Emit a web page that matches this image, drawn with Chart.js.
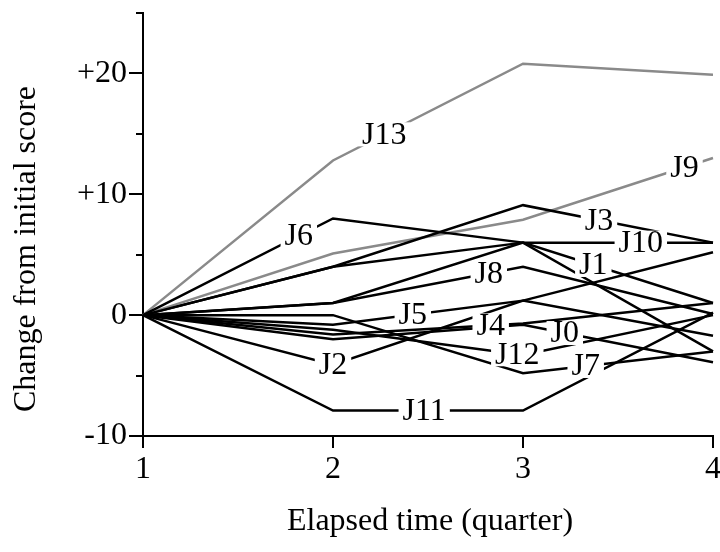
<!DOCTYPE html>
<html>
<head>
<meta charset="utf-8">
<script src="https://cdn.jsdelivr.net/npm/chart.js@4.4.1/dist/chart.umd.min.js"></script>
<style>
  html, body { margin: 0; padding: 0; background: #fff; }
</style>
</head>
<body>
<canvas id="chart" width="720" height="552"></canvas>
<script>
// x categories (elapsed quarter)
const quarters = ['1', '2', '3', '4'];

// change from initial score, one array per judge
const j0  = [0, -2.0, -0.8, -3.9];
const j1  = [0, 1.0, 6.0, 1.0];
const j2  = [0, -4.1, 1.2, -1.7];
const j3  = [0, 4.0, 9.1, 6.0];
const j4  = [0, -1.6, -0.7, 1.0];
const j5  = [0, -0.8, 1.2, 5.2];
const j6  = [0, 8.0, 6.0, -3.0];
const j7  = [0, 0.0, -4.8, -3.0];
const j8  = [0, 1.0, 4.0, 0.1];
const j9  = [0, 5.1, 7.9, 13.0];
const j10 = [0, 4.0, 6.0, 6.0];
const j11 = [0, -7.9, -7.9, 0.2];
const j12 = [0, -1.2, -3.3, 0.0];
const j13 = [0, 12.8, 20.8, 19.9];

const names = ['J0', 'J1', 'J2', 'J3', 'J4', 'J5', 'J6', 'J7', 'J8', 'J9', 'J10', 'J11', 'J12', 'J13'];
const values = [j0, j1, j2, j3, j4, j5, j6, j7, j8, j9, j10, j11, j12, j13];
const grayNames = ['J9', 'J13'];

// where along x each name sits on its own line
const labelAt = [3.22, 3.37, 2.0, 3.40, 2.83, 2.42, 1.82, 3.33, 2.82, 3.85, 3.62, 2.48, 2.97, 2.27];

const yTicks = [-10, 0, 10, 20];
const yMinor = [-5, 5, 15, 25];

const FONT = '32px "Liberation Serif", "Times New Roman", serif';

const lineLabels = {
  id: 'lineLabels',
  afterDatasetsDraw(chart) {
    const ctx = chart.ctx;
    const xs = chart.scales.x, ys = chart.scales.y;
    ctx.save();
    ctx.font = FONT;
    ctx.textAlign = 'center';
    ctx.textBaseline = 'middle';
    chart.data.datasets.forEach((ds, i) => {
      const t = labelAt[i] - 1;
      const k = Math.min(Math.floor(t), 2);
      const f = t - k;
      const v = ds.data[k] + (ds.data[k + 1] - ds.data[k]) * f;
      const x0 = xs.getPixelForValue(k), x1 = xs.getPixelForValue(k + 1);
      const px = x0 + (x1 - x0) * f;
      const py = ys.getPixelForValue(v);
      const w = ctx.measureText(ds.label).width;
      ctx.fillStyle = '#fff';
      ctx.fillRect(px - w / 2 - 4, py - 12, w + 8, 24);
      ctx.fillStyle = '#000';
      ctx.fillText(ds.label, px, py + 1);
    });
    ctx.restore();
  }
};

const extras = {
  id: 'extras',
  afterDraw(chart) {
    const ctx = chart.ctx;
    const ys = chart.scales.y;
    const left = chart.chartArea.left;
    ctx.save();
    // minor ticks on the y axis
    ctx.strokeStyle = '#000';
    ctx.lineWidth = 2;
    yMinor.forEach(v => {
      const y = Math.round(ys.getPixelForValue(v));
      ctx.beginPath();
      ctx.moveTo(left - 7, y);
      ctx.lineTo(left, y);
      ctx.stroke();
    });
    // axis titles
    ctx.fillStyle = '#000';
    ctx.font = FONT;
    ctx.textAlign = 'center';
    ctx.textBaseline = 'middle';
    ctx.fillText('Elapsed time (quarter)', 430, 522);
    ctx.translate(27, 249);
    ctx.rotate(-Math.PI / 2);
    ctx.fillText('Change from initial score', 0, 0);
    ctx.restore();
  }
};

new Chart(document.getElementById('chart'), {
  type: 'line',
  data: {
    labels: quarters,
    datasets: names.map((n, i) => ({
      label: n,
      data: values[i],
      borderColor: grayNames.includes(n) ? '#8a8a8a' : '#000',
      borderWidth: 2.5,
      borderJoinStyle: 'miter',
      pointRadius: 0,
      tension: 0,
      fill: false
    }))
  },
  options: {
    responsive: false,
    animation: false,
    devicePixelRatio: 1,
    layout: { padding: { top: 13, right: 7, left: 0, bottom: 0 } },
    plugins: { legend: { display: false }, tooltip: { enabled: false } },
    scales: {
      x: {
        type: 'category',
        offset: false,
        border: { display: true, color: '#000', width: 2 },
        grid: { display: true, drawOnChartArea: false, drawTicks: true, tickLength: 12, color: '#000', lineWidth: 2 },
        ticks: { color: '#000', font: { family: '"Liberation Serif", serif', size: 32 }, padding: 2, maxRotation: 0 },
        afterFit(s) { s.height = 552 - 436; s.paddingLeft = 0; s.paddingRight = 0; }
      },
      y: {
        min: -10,
        max: 25,
        border: { display: true, color: '#000', width: 2 },
        grid: { display: true, drawOnChartArea: false, drawTicks: true, tickLength: 14, color: '#000', lineWidth: 2 },
        afterBuildTicks(s) { s.ticks = yTicks.map(v => ({ value: v })); },
        ticks: {
          color: '#000',
          font: { family: '"Liberation Serif", serif', size: 32 },
          padding: 2,
          callback: v => (v > 0 ? '+' + v : String(v))
        },
        afterFit(s) { s.width = 143; s.paddingTop = 0; s.paddingBottom = 0; }
      }
    }
  },
  plugins: [lineLabels, extras]
});
</script>
</body>
</html>
